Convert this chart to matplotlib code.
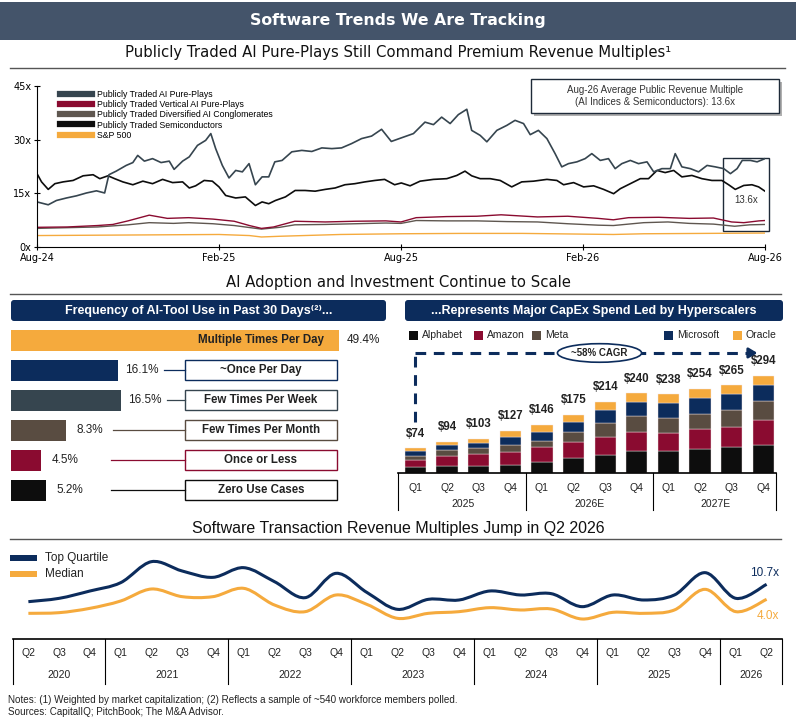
import matplotlib.pyplot as plt
import numpy as np
from matplotlib import font_manager
from matplotlib.patches import Rectangle, FancyBboxPatch, Ellipse, PathPatch
from matplotlib.path import Path
from matplotlib.lines import Line2D

W, H = 796, 721

NAVY = '#0c2c5c'
SLATE = '#36454f'
BROWN = '#594c41'
MAROON = '#8a0b30'
BLACK = '#0d0d0d'
ORANGE = '#f5aa3d'
HEADER = '#44546a'

_names = {f.name for f in font_manager.fontManager.ttflist}
HAS_NARROW = 'Liberation Sans Narrow' in _names
NARROW = ['Liberation Sans Narrow', 'DejaVu Sans'] if HAS_NARROW else ['DejaVu Sans']
NS = 1.0 if HAS_NARROW else 0.78   # size factor for condensed headings
plt.rcParams['font.family'] = ['Liberation Sans', 'DejaVu Sans']

# ---- top chart: revenue multiples (months since Aug-24) ----
pp_t = [0.0, 0.37, 0.64, 0.97, 1.30, 1.63, 1.96, 2.23, 2.37, 2.61, 2.94, 3.16, 3.32, 3.54,
        3.81, 4.09, 4.36, 4.52, 4.80, 5.02, 5.29, 5.56, 5.73, 5.89, 6.11, 6.33, 6.55, 6.77,
        6.99, 7.20, 7.42, 7.64, 7.84, 8.08, 8.40, 8.73, 9.06, 9.39, 9.72, 10.04, 10.37,
        10.70, 11.03, 11.36, 11.68, 12.01, 12.41, 12.79, 13.07, 13.34, 13.62, 13.89, 14.17,
        14.33, 14.61, 14.83, 15.16, 15.49, 15.76, 16.04, 16.26, 16.53, 16.81, 17.08, 17.30,
        17.52, 17.80, 18.07, 18.29, 18.57, 18.84, 19.06, 19.28, 19.56, 19.83, 20.11, 20.33,
        20.60, 20.88, 21.04, 21.26, 21.54, 21.81, 22.09, 22.36, 22.64, 22.86, 23.08, 23.25,
        23.52, 23.74, 24.0]
pp_v = [12.6, 11.8, 13.0, 13.7, 14.3, 15.1, 15.7, 15.1, 20.2, 21.2, 22.8, 23.6, 25.6, 24.0,
        24.7, 23.6, 24.0, 21.7, 24.0, 25.2, 28.4, 29.8, 31.7, 27.5, 22.8, 19.3, 21.4, 21.0,
        23.3, 17.4, 19.6, 19.6, 23.8, 24.2, 26.6, 27.0, 26.7, 27.7, 27.5, 27.7, 28.9,
        30.3, 31.0, 32.9, 29.5, 30.5, 31.7, 34.9, 34.2, 36.3, 34.5, 37.0, 38.5,
        32.6, 31.2, 29.4, 32.6, 34.0, 35.4, 34.5, 31.4, 32.6, 30.3, 26.1, 22.4,
        23.3, 23.8, 24.7, 26.1, 24.2, 24.7, 21.9, 23.3, 24.2, 23.3, 23.8, 21.0,
        21.9, 21.9, 26.1, 22.4, 21.9, 21.0, 22.8, 22.4, 21.9, 20.5, 21.9, 24.2,
        24.2, 23.8, 24.7]

semi_t = [0.0, 0.15, 0.37, 0.59, 0.86, 1.19, 1.52, 1.85, 2.07, 2.34, 2.56, 2.83, 3.16, 3.49,
          3.81, 4.14, 4.47, 4.80, 5.02, 5.23, 5.51, 5.78, 6.00, 6.22, 6.55, 6.87, 7.20, 7.42,
          7.64, 7.86, 8.19, 8.51, 8.84, 9.17, 9.50, 9.83, 10.15, 10.48, 10.81, 11.14, 11.46,
          11.79, 12.01, 12.30, 12.63, 13.07, 13.51, 13.84, 14.11, 14.33, 14.61, 14.94, 15.27,
          15.65, 15.98, 16.37, 16.81, 17.14, 17.36, 17.69, 18.02, 18.35, 18.68, 19.01, 19.23,
          19.56, 19.89, 20.16, 20.44, 20.71, 20.99, 21.26, 21.59, 21.92, 22.25, 22.58, 22.80,
          23.02, 23.30, 23.57, 23.79, 24.0]
semi_v = [20.5, 18.2, 16.1, 17.7, 18.2, 18.6, 19.9, 20.2, 19.1, 19.9, 19.1, 18.2, 17.4, 18.4,
          17.7, 18.9, 18.0, 18.2, 16.5, 17.1, 18.6, 18.4, 16.8, 14.4, 13.7, 14.0, 11.6, 12.6,
          12.1, 13.0, 14.0, 15.8, 15.8, 15.6, 16.1, 16.5, 17.4, 17.7, 18.2, 18.6, 18.9,
          17.4, 17.9, 17.1, 18.4, 18.9, 19.1, 20.0, 21.2, 19.9, 19.1, 19.1, 18.6,
          16.8, 18.2, 18.4, 18.9, 18.6, 17.4, 18.0, 16.8, 17.1, 16.1, 14.9, 16.3,
          17.7, 19.1, 19.1, 21.4, 20.8, 21.4, 19.6, 20.0, 19.1, 18.6, 18.6, 17.4,
          16.1, 17.2, 17.4, 16.8, 15.6]

vert_t = [0, 1, 2, 2.5, 3, 3.7, 4.3, 5, 5.8, 6.5, 7.0, 7.4, 7.8, 8.5, 9.5, 10.5, 11.5, 12.0,
          12.5, 13.5, 14.5, 15.3, 16.5, 17.5, 18.5, 19.0, 19.5, 20.5, 21.5, 22.3, 22.9, 23.3,
          23.8, 24]
vert_v = [5.5, 5.6, 6.0, 6.3, 7.3, 8.9, 8.0, 8.2, 7.8, 7.2, 6.0, 5.2, 5.6, 7.2, 7.0, 7.2, 7.3,
          7.0, 8.2, 8.5, 8.6, 9.0, 8.4, 8.6, 8.0, 7.6, 8.2, 8.3, 8.0, 8.1, 7.0, 6.8, 7.3, 7.4]

div_t = [0, 1, 2, 3, 3.7, 4.5, 5.0, 5.8, 6.5, 7.4, 8.0, 8.5, 9.5, 10.5, 11.5, 12.0, 12.5, 13.5,
         14.5, 15.5, 16.5, 17.5, 18.5, 19.0, 20.0, 20.8, 21.5, 22.3, 23.0, 23.5, 24]
div_v = [5.2, 5.4, 5.6, 6.2, 6.8, 6.6, 6.8, 6.5, 6.0, 5.0, 5.5, 6.2, 6.3, 6.5, 6.7, 6.6, 7.4, 7.3,
         7.3, 7.1, 7.0, 6.5, 6.1, 6.0, 6.8, 7.0, 6.6, 6.4, 5.8, 6.2, 6.3]

spx_t = [0, 2, 4, 6, 7.0, 7.4, 8, 10, 12, 14, 16, 18, 19, 20, 22, 24]
spx_v = [3.2, 3.3, 3.4, 3.5, 3.2, 2.8, 3.0, 3.5, 3.7, 3.8, 3.8, 3.6, 3.5, 3.7, 3.8, 3.9]

top_xticks = [0, 6, 12, 18, 24]
top_xlabels = ['Aug-24', 'Feb-25', 'Aug-25', 'Feb-26', 'Aug-26']
top_yticks = [0, 15, 30, 45]

# ---- AI tool use ----
use_labels = ['Multiple Times Per Day', '~Once Per Day', 'Few Times Per Week',
              'Few Times Per Month', 'Once or Less', 'Zero Use Cases']
use_pct = [49.4, 16.1, 16.5, 8.3, 4.5, 5.2]
use_colors = [ORANGE, NAVY, SLATE, BROWN, MAROON, BLACK]

# ---- CapEx by hyperscaler ($bn) ----
capex_quarters = ['Q1', 'Q2', 'Q3', 'Q4'] * 3
capex_years = ['2025', '2026E', '2027E']
capex_names = ['Alphabet', 'Amazon', 'Meta', 'Microsoft', 'Oracle']
capex_colors = [BLACK, MAROON, BROWN, NAVY, ORANGE]
alphabet = [17, 20, 21, 23, 34, 44, 55, 65, 65, 72, 78, 83]
amazon = [21, 30, 35, 39, 44, 49, 53, 58, 56, 60, 61, 77]
meta = [13, 18, 19, 23, 19, 32, 43, 49, 44, 46, 51, 57]
microsoft = [14, 16, 16, 25, 28, 29, 40, 42, 45, 48, 49, 49]
oracle = [9, 10, 12, 17, 21, 21, 23, 26, 28, 28, 26, 28]
capex_total = [74, 94, 103, 127, 146, 175, 214, 240, 238, 254, 265, 294]

# ---- transaction multiples (relative level, Q2-20 .. Q2-26) ----
deal_quarters = ['Q2', 'Q3', 'Q4'] + ['Q1', 'Q2', 'Q3', 'Q4'] * 5 + ['Q1', 'Q2']
deal_years = ['2020', '2021', '2022', '2023', '2024', '2025', '2026']
top_quartile = [7.0, 8.0, 10.2, 12.7, 19.0, 16.2, 14.3, 17.2, 13.0, 8.2, 15.5, 9.8, 4.7,
                7.7, 7.5, 10.2, 9.0, 9.4, 5.5, 9.0, 7.5, 9.0, 15.7, 8.0, 12.2]
median = [3.5, 3.7, 5.0, 7.2, 10.8, 8.5, 8.5, 11.0, 6.0, 4.0, 9.0, 6.2, 2.0,
          3.5, 4.0, 5.2, 4.5, 4.8, 1.8, 3.8, 3.5, 4.5, 10.7, 4.0, 7.7]

fig = plt.figure(figsize=(W / 100, H / 100), dpi=100)
bg = fig.add_axes([0, 0, 1, 1])
bg.set_xlim(0, W)
bg.set_ylim(H, 0)
bg.axis('off')


def px_axes(x0, y0, x1, y1):
    a = fig.add_axes([x0 / W, 1 - y1 / H, (x1 - x0) / W, (y1 - y0) / H])
    a.set_facecolor('none')
    return a


def smooth_path(xs, ys):
    pts = np.column_stack([xs, ys]).astype(float)
    verts = [pts[0]]
    codes = [Path.MOVETO]
    n = len(pts)
    for i in range(n - 1):
        p0 = pts[max(i - 1, 0)]
        p1 = pts[i]
        p2 = pts[i + 1]
        p3 = pts[min(i + 2, n - 1)]
        verts += [p1 + (p2 - p0) / 6, p2 - (p3 - p1) / 6, p2]
        codes += [Path.CURVE4] * 3
    return Path(verts, codes)


# header + section titles
bg.add_patch(Rectangle((0, 2), W, 38, color=HEADER, lw=0))
bg.text(W / 2, 21, 'Software Trends We Are Tracking', color='white', fontsize=14.5 * NS,
        fontweight='bold', ha='center', va='center', family=NARROW)
bg.text(W / 2, 52, 'Publicly Traded AI Pure-Plays Still Command Premium Revenue Multiples\u00b9',
        fontsize=13.8 * NS, ha='center', va='center', family=NARROW, color='#111111')
bg.plot([10, 785], [68, 68], color='#555555', lw=1)
bg.text(W / 2, 283, 'AI Adoption and Investment Continue to Scale', fontsize=13.8 * NS,
        ha='center', va='center', family=NARROW, color='#111111')
bg.plot([10, 781], [294, 294], color='#555555', lw=1)
bg.text(W / 2, 528, 'Software Transaction Revenue Multiples Jump in Q2 2026', fontsize=11.5,
        ha='center', va='center', color='#111111')
bg.plot([10, 781], [539, 539], color='#555555', lw=1)

# ---- top chart ----
ax = px_axes(37, 86, 765, 247)
ax.plot(spx_t, spx_v, color=ORANGE, lw=1.0)
ax.plot(div_t, div_v, color='#5f5750', lw=1.0)
ax.plot(vert_t, vert_v, color=MAROON, lw=1.0)
ax.plot(semi_t, semi_v, color=BLACK, lw=1.2)
ax.plot(pp_t, pp_v, color=SLATE, lw=1.2)
ax.set_xlim(0, 24)
ax.set_ylim(0, 45)
ax.set_xticks(top_xticks)
ax.set_xticklabels(top_xlabels)
ax.set_yticks(top_yticks)
ax.set_yticklabels([f'{v}x' for v in top_yticks])
for s in ['top', 'right']:
    ax.spines[s].set_visible(False)
ax.tick_params(labelsize=7, length=4, width=0.8, direction='inout', pad=2)
for lab in ax.get_xticklabels() + ax.get_yticklabels():
    lab.set_family(NARROW)
ax.add_patch(Rectangle((22.62, 4.5), 1.5, 20.4, fill=False, ec='#1e2a38', lw=1, clip_on=False))
ax.text(23.37, 13.1, '13.6x', fontsize=7, ha='center', va='center', color='#333333')
handles = [Line2D([], [], color=c, lw=4.5) for c in [SLATE, MAROON, '#5f5750', BLACK, ORANGE]]
ax.legend(handles, ['Publicly Traded AI Pure-Plays', 'Publicly Traded Vertical AI Pure-Plays',
                    'Publicly Traded Diversified AI Conglomerates',
                    'Publicly Traded Semiconductors', 'S&P 500'],
          loc='upper left', bbox_to_anchor=(0.026, 1.0), frameon=False, fontsize=6.3,
          handlelength=3.6, handletextpad=0.6, labelspacing=0.12, borderaxespad=0.1)

bg.add_patch(Rectangle((534, 82), 248, 34, fc='#b0b0b0', lw=0))
bg.add_patch(Rectangle((531, 79), 248, 34, fc='white', ec='#1e2a38', lw=1))
bg.text(655, 90, 'Aug-26 Average Public Revenue Multiple', fontsize=7, ha='center', va='center',
        color='#333333')
bg.text(655, 102, '(AI Indices & Semiconductors): 13.6x', fontsize=7, ha='center', va='center',
        color='#333333')

# ---- panel headers ----
for x0, w, txt in [(11, 375, 'Frequency of AI-Tool Use in Past 30 Days\u207d\u00b2\u207e...'),
                   (405, 378, '...Represents Major CapEx Spend Led by Hyperscalers')]:
    bg.add_patch(FancyBboxPatch((x0, 300), w, 21, boxstyle='round,pad=0,rounding_size=3',
                                fc=NAVY, ec='none'))
    bg.text(x0 + w / 2, 311, txt, color='white', fontsize=9, fontweight='bold',
            ha='center', va='center')

# ---- AI tool use bars ----
ax2 = px_axes(11, 325, 390, 505)
ax2.barh(range(len(use_pct)), use_pct, height=0.7, color=use_colors)
ax2.set_xlim(0, 379 / 6.64)
ax2.set_ylim(5.5, -0.5)
ax2.axis('off')
box_x0, box_w = 26.2, 22.9
for i, (lab, v, c) in enumerate(zip(use_labels, use_pct, use_colors)):
    ax2.text(v + 3.6, i, f'{v}%', fontsize=8.5, ha='center', va='center', color='#222222')
    if i == 0:
        ax2.text(box_x0 + box_w / 2, i, lab, fontsize=8.3, fontweight='bold', ha='center',
                 va='center', color='#222222')
        continue
    ax2.plot([max(v + 7.0, 15.1), box_x0], [i, i], color=c, lw=0.9)
    ax2.add_patch(Rectangle((box_x0, i - 0.32), box_w, 0.64, fc='white', ec=c, lw=1))
    ax2.text(box_x0 + box_w / 2, i, lab, fontsize=8.3, fontweight='bold', ha='center',
             va='center', color='#222222')

# ---- CapEx stacked bars ----
ax3 = px_axes(398, 347, 776, 473)
xs = np.arange(len(capex_total))
bottom = np.zeros(len(xs))
for name, vals, c in zip(capex_names, [alphabet, amazon, meta, microsoft, oracle], capex_colors):
    ax3.bar(xs, vals, bottom=bottom, width=0.67, color=c, edgecolor='#f3e6e6', lw=0.3)
    bottom += np.array(vals)
for x, tot in zip(xs, capex_total):
    ax3.annotate(f'${tot}', (x, tot), xytext=(0, 10.5), textcoords='offset points',
                 ha='center', va='center', fontsize=8.3, fontweight='bold', color='#222222')
ax3.set_xlim(-0.55, 11.4)
ax3.set_ylim(0, 380)
ax3.axis('off')
ax3.plot([0, 0], [154, 362], color=NAVY, lw=2.2, dashes=(3.5, 2.5), clip_on=False)
ax3.plot([0, 10.55], [362, 362], color=NAVY, lw=2.2, dashes=(3.5, 2.5), clip_on=False)
ax3.annotate('', xy=(10.9, 362), xytext=(10.5, 362),
             arrowprops=dict(arrowstyle='-|>,head_length=0.5,head_width=0.3', color=NAVY, lw=2),
             annotation_clip=False)
ax3.add_patch(Ellipse((5.82, 362), 2.66, 56, fc='white', ec=NAVY, lw=1.2, clip_on=False,
                      zorder=4))
ax3.text(5.82, 362, '~58% CAGR', fontsize=7, fontweight='bold', ha='center', va='center',
         color='#222222', zorder=5)

# legend squares
for name, c, lx in zip(capex_names, capex_colors, [409, 474, 532, 664, 733]):
    bg.add_patch(Rectangle((lx, 331), 9, 9, fc=c, lw=0))
    bg.text(lx + 13, 335.5, name, fontsize=7.5, va='center', color='#222222')

# category table under CapEx bars
tb = px_axes(398, 473, 776, 510)
tb.set_xlim(-0.55, 11.4)
tb.set_ylim(1, 0)
tb.axis('off')
tb.plot([-0.55, 11.4], [0, 0], color='black', lw=1.2, clip_on=False)
for xv in [-0.55, 3.5, 7.5, 11.4]:
    tb.plot([xv, xv], [0, 1], color='black', lw=0.8, clip_on=False)
for x, q in zip(xs, capex_quarters):
    tb.text(x, 0.4, q, fontsize=7.5, ha='center', va='center', color='#222222')
for k, yr in enumerate(capex_years):
    tb.text(1.5 + 4 * k, 0.84, yr, fontsize=7.5, ha='center', va='center', color='#222222')

# ---- transaction multiples ----
ax4 = px_axes(13, 545, 782, 637)
qx = np.arange(len(top_quartile))
ax4.add_patch(PathPatch(smooth_path(qx, median), fill=False, ec=ORANGE, lw=2.2))
ax4.add_patch(PathPatch(smooth_path(qx, top_quartile), fill=False, ec=NAVY, lw=2.2))
ax4.set_xlim(-0.5, 24.5)
ax4.set_ylim(-3.6, 24)
ax4.axis('off')
ax4.text(24.4, top_quartile[-1] + 3.4, '10.7x', fontsize=8.5, ha='right', va='center', color=NAVY)
ax4.text(24.4, median[-1] - 5.0, '4.0x', fontsize=8.5, ha='right', va='center', color=ORANGE)

for c, ly, txt in [(NAVY, 558, 'Top Quartile'), (ORANGE, 574, 'Median')]:
    bg.add_patch(Rectangle((10, ly - 3), 27, 6, fc=c, lw=0))
    bg.text(45, ly, txt, fontsize=8.5, va='center', color='#222222')

tb2 = px_axes(13, 639, 782, 684)
tb2.set_xlim(-0.5, 24.5)
tb2.set_ylim(1, 0)
tb2.axis('off')
tb2.plot([-0.5, 24.5], [0, 0], color='black', lw=1.2, clip_on=False)
for xv in [-0.5, 2.5, 6.5, 10.5, 14.5, 18.5, 22.5, 24.5]:
    tb2.plot([xv, xv], [0, 1], color='black', lw=0.8, clip_on=False)
for x, q in zip(qx, deal_quarters):
    tb2.text(x, 0.31, q, fontsize=7.5, ha='center', va='center', color='#222222')
for xc, yr in zip([1, 4.5, 8.5, 12.5, 16.5, 20.5, 23.5], deal_years):
    tb2.text(xc, 0.8, yr, fontsize=7.5, ha='center', va='center', color='#222222')

bg.text(8, 700, 'Notes: (1) Weighted by market capitalization; (2) Reflects a sample of ~540 '
        'workforce members polled.', fontsize=7.1, va='center', color='#222222')
bg.text(8, 712, 'Sources: CapitalIQ; PitchBook; The M&A Advisor.', fontsize=7.1, va='center',
        color='#222222')

fig.savefig('out.png', dpi=100)
